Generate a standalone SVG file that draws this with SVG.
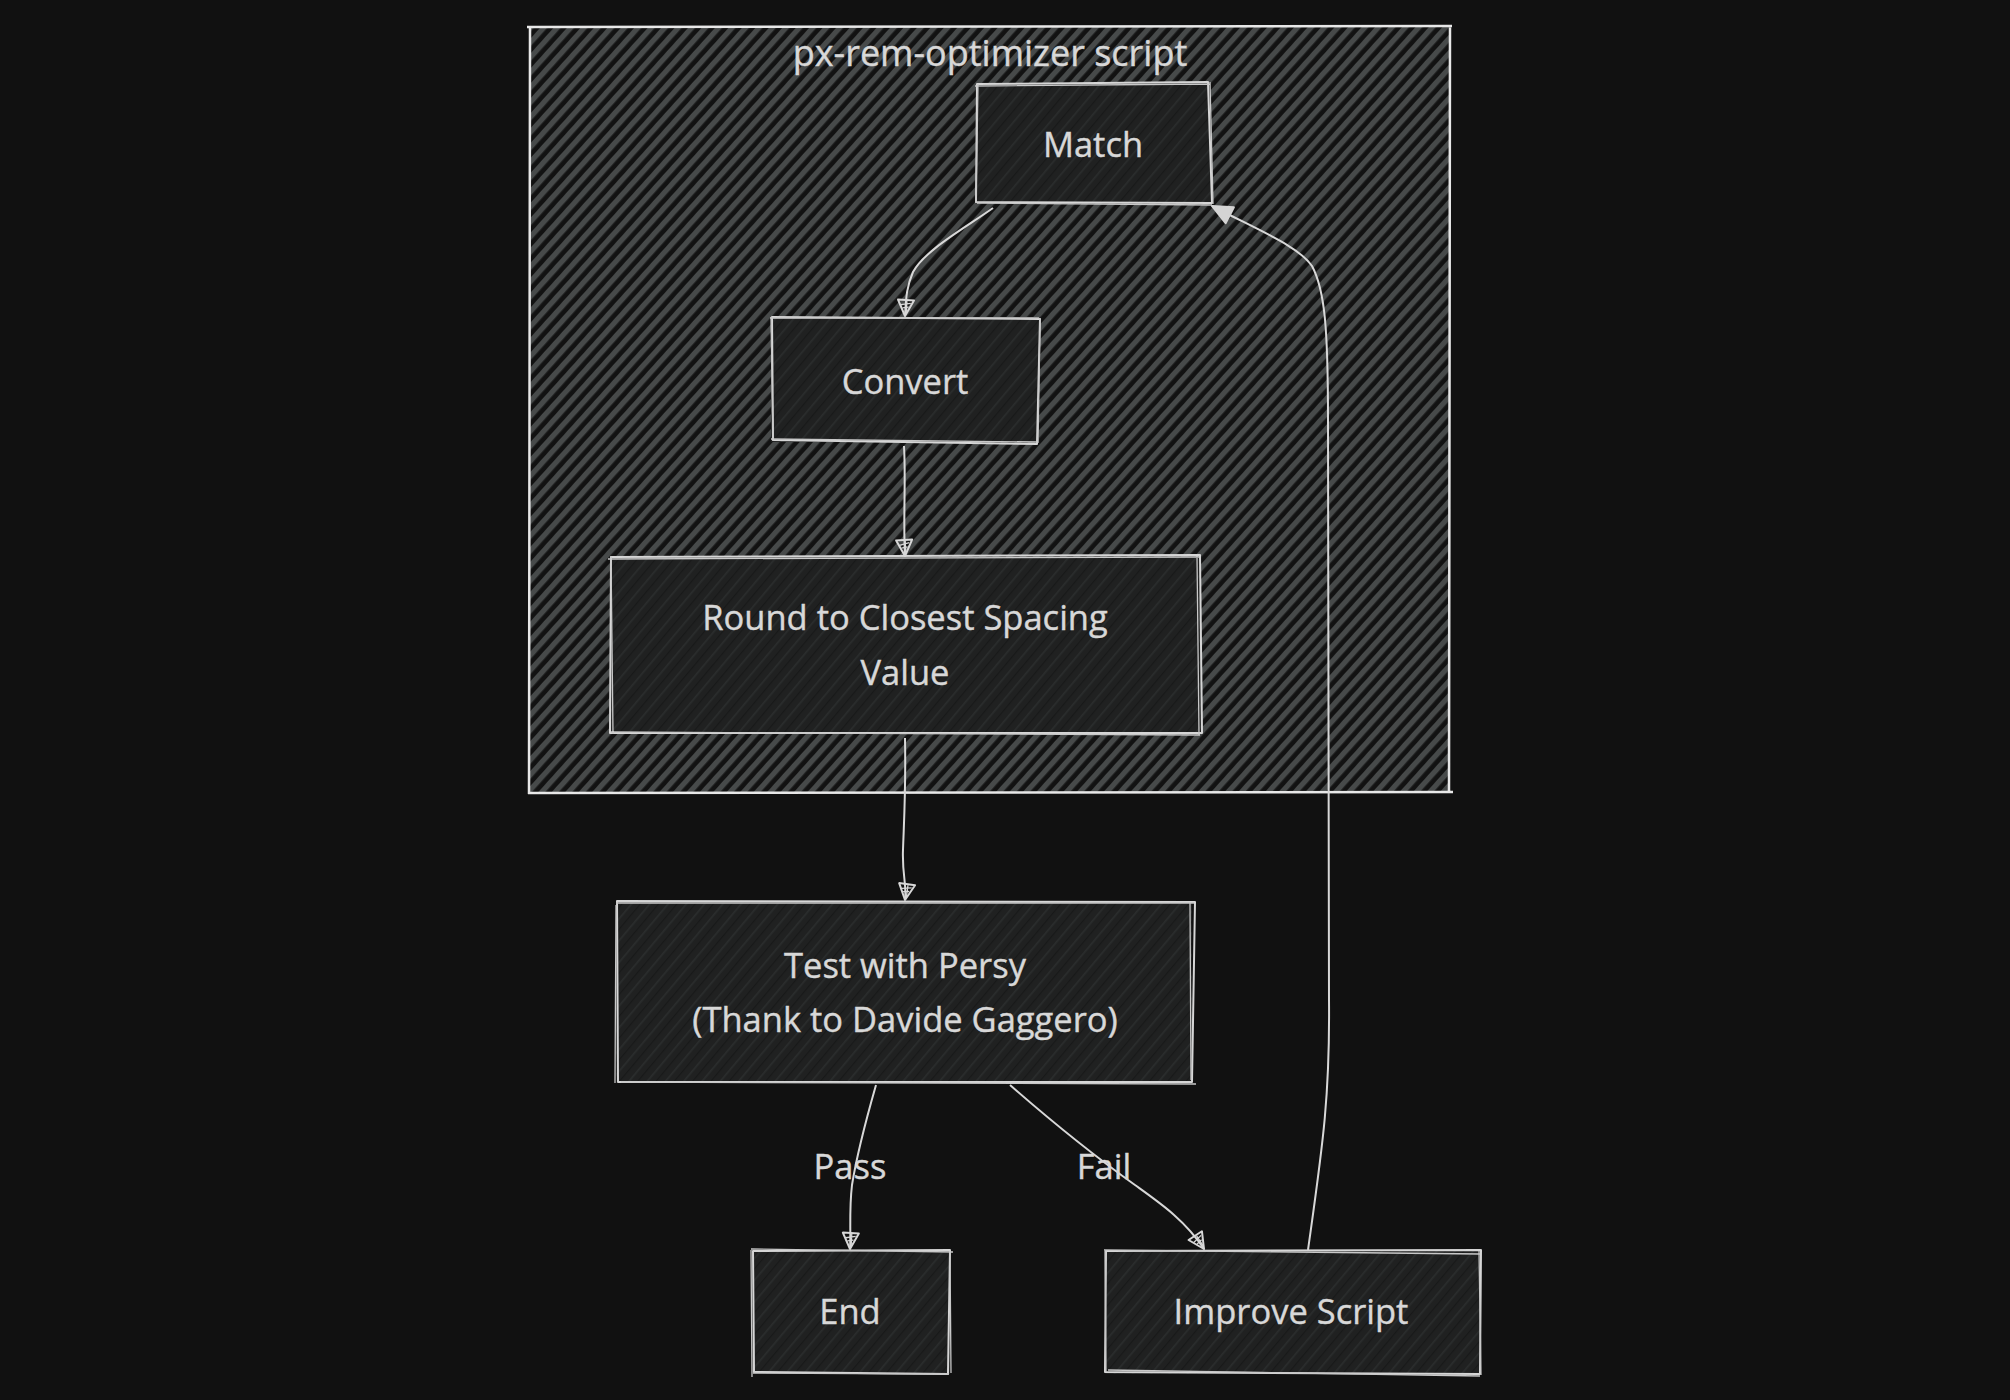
<svg xmlns="http://www.w3.org/2000/svg" width="2010" height="1400" viewBox="0 0 2010 1400">
  <style>
    .lbl { font-family: "Open Sans", "Noto Sans", "DejaVu Sans", sans-serif; font-size: 34.5px; fill: #d8d8d8; text-anchor: middle; stroke: #d8d8d8; stroke-width: 0.4; }
    .title { font-size: 36px; }
    .nodefill { fill: #202121; }
    .nodehatch { fill: url(#nodeHatch); }
    .outline { fill: none; stroke: #d6d6d6; stroke-width: 2; stroke-linejoin: round; }
    .outline2 { fill: none; stroke: #c8c8c8; stroke-width: 1.3; stroke-linejoin: round; }
    .edge { fill: none; stroke: #d8d8d8; stroke-width: 2; }
  </style>
  <defs>
    <pattern id="clusterHatch" patternUnits="userSpaceOnUse" width="10" height="10" patternTransform="rotate(-48)">
      <rect x="0" y="0" width="10" height="5.3" fill="#474a4a"/>
    </pattern>
    <pattern id="nodeHatch" patternUnits="userSpaceOnUse" width="14" height="14" patternTransform="rotate(-50)">
      <rect x="0" y="0" width="14" height="1.6" fill="#2b2d2d"/>
      <rect x="0" y="7" width="14" height="1.2" fill="#181919"/>
    </pattern>
    <marker id="arrowOpen" viewBox="0 0 20 20" refX="18" refY="10" markerWidth="20" markerHeight="20" markerUnits="userSpaceOnUse" orient="auto">
      <path d="M2,2 L18,10 L2,18 Z" fill="none" stroke="#d8d8d8" stroke-width="2" stroke-linejoin="round"/>
      <path d="M5,5 L7,15 M9,7 L10,13 M3,9 L15,9" fill="none" stroke="#d8d8d8" stroke-width="1.3"/>
    </marker>
    <marker id="arrowFilled" viewBox="0 0 24 24" refX="22" refY="12" markerWidth="24" markerHeight="24" markerUnits="userSpaceOnUse" orient="auto">
      <path d="M2,3 L22,12 L2,21 Z" fill="#d4d4d4" stroke="#d4d4d4" stroke-width="2" stroke-linejoin="round"/>
    </marker>
  </defs>

  <rect x="0" y="0" width="2010" height="1400" fill="#111111"/>

  <g id="cluster-px-rem-optimizer">
    <rect x="529" y="27" width="921" height="765" fill="#121212"/>
    <rect x="529" y="27" width="921" height="765" fill="url(#clusterHatch)"/>
    <path d="M527 27 L1452 26 M1450 25 L1449 793 M1453 792 L528 793 M529 794 L530 28" fill="none" stroke="#e8e8e8" stroke-width="2.5"/>
    <text class="lbl title" x="990" y="66">px-rem-optimizer script</text>
  </g>

  <g id="node-match">
    <rect class="nodefill" x="976" y="83" width="235" height="120"/>
    <rect class="nodehatch" x="976" y="83" width="235" height="120"/>
    <path class="outline" d="M977 84 L1208 82 L1212 203 L976 202 Z"/>
    <path class="outline2" d="M975 86 L1210 84 M1210 82 L1213 204 M1212 205 L977 203 M976 203 L978 84"/>
    <text class="lbl" x="1093" y="157">Match</text>
  </g>

  <g id="node-convert">
    <rect class="nodefill" x="771" y="317" width="268" height="125"/>
    <rect class="nodehatch" x="771" y="317" width="268" height="125"/>
    <path class="outline" d="M772 317 L1040 319 L1037 444 L773 440 Z"/>
    <path class="outline2" d="M770 318 L1039 318 M1040 318 L1038 443 M1037 442 L771 439 M773 441 L771 317"/>
    <text class="lbl" x="905" y="394">Convert</text>
  </g>

  <g id="node-round">
    <rect class="nodefill" x="610" y="557" width="591" height="176"/>
    <rect class="nodehatch" x="610" y="557" width="591" height="176"/>
    <path class="outline" d="M611 557 L1200 555 L1202 733 L610 733 Z"/>
    <path class="outline2" d="M608 559 L1199 557 M1197 556 L1199 735 M1200 735 L611 732 M613 734 L611 556 M614 559 L655 559"/>
    <text class="lbl" x="905" y="630">Round to Closest Spacing</text>
    <text class="lbl" x="905" y="685">Value</text>
  </g>

  <g id="node-test">
    <rect class="nodefill" x="616" y="902" width="576" height="181"/>
    <rect class="nodehatch" x="616" y="902" width="576" height="181"/>
    <path class="outline" d="M617 901 L1195 902 L1192 1082 L618 1082 Z"/>
    <path class="outline2" d="M616 903 L1194 903 M1190 903 L1191 1080 M1196 1084 L621 1082 M615 1083 L616 905"/>
    <text class="lbl" x="905" y="978">Test with Persy</text>
    <text class="lbl" x="905" y="1032">(Thank to Davide Gaggero)</text>
  </g>

  <g id="node-end">
    <rect class="nodefill" x="752" y="1250" width="198" height="124"/>
    <rect class="nodehatch" x="752" y="1250" width="198" height="124"/>
    <path class="outline" d="M753 1251 L950 1250 L948 1374 L754 1372 Z"/>
    <path class="outline2" d="M751 1249 L953 1252 M950 1252 L951 1373 M949 1374 L753 1373 M752 1377 L751 1250"/>
    <text class="lbl" x="850" y="1324">End</text>
  </g>

  <g id="node-improve">
    <rect class="nodefill" x="1105" y="1250" width="375" height="124"/>
    <rect class="nodehatch" x="1105" y="1250" width="375" height="124"/>
    <path class="outline" d="M1106 1251 L1481 1250 L1480 1374 L1105 1372 Z"/>
    <path class="outline2" d="M1104 1250 L1480 1254 M1479 1251 L1481 1375 M1480 1376 L1108 1370 M1106 1372 L1105 1251"/>
    <text class="lbl" x="1291" y="1324">Improve Script</text>
  </g>

  <g id="connectors">
    <path class="edge" d="M993 208 C 965 228, 925 250, 913 272 C 906 288, 906 300, 905 316" marker-end="url(#arrowOpen)"/>
    <path class="edge" d="M904 446 C 906 480, 903 520, 905 556" marker-end="url(#arrowOpen)"/>
    <path class="edge" d="M905 738 C 906 790, 904 820, 903 850 C 902 875, 907 885, 905 900" marker-end="url(#arrowOpen)"/>
    <path class="edge" d="M876 1085 C 866 1120, 856 1160, 852 1185 C 849 1210, 851 1230, 850 1249" marker-end="url(#arrowOpen)"/>
    <path class="edge" d="M1010 1085 C 1050 1120, 1100 1160, 1135 1185 C 1160 1203, 1185 1220, 1204 1249" marker-end="url(#arrowOpen)"/>
    <path class="edge" d="M1308 1250 C 1322 1150, 1330 1100, 1329 1000 L 1328 420 C 1328 330, 1325 290, 1312 266 C 1298 246, 1262 232, 1212 206" marker-end="url(#arrowFilled)"/>
    <text class="lbl" x="850" y="1179">Pass</text>
    <text class="lbl" x="1104" y="1179">Fail</text>
  </g>
</svg>
